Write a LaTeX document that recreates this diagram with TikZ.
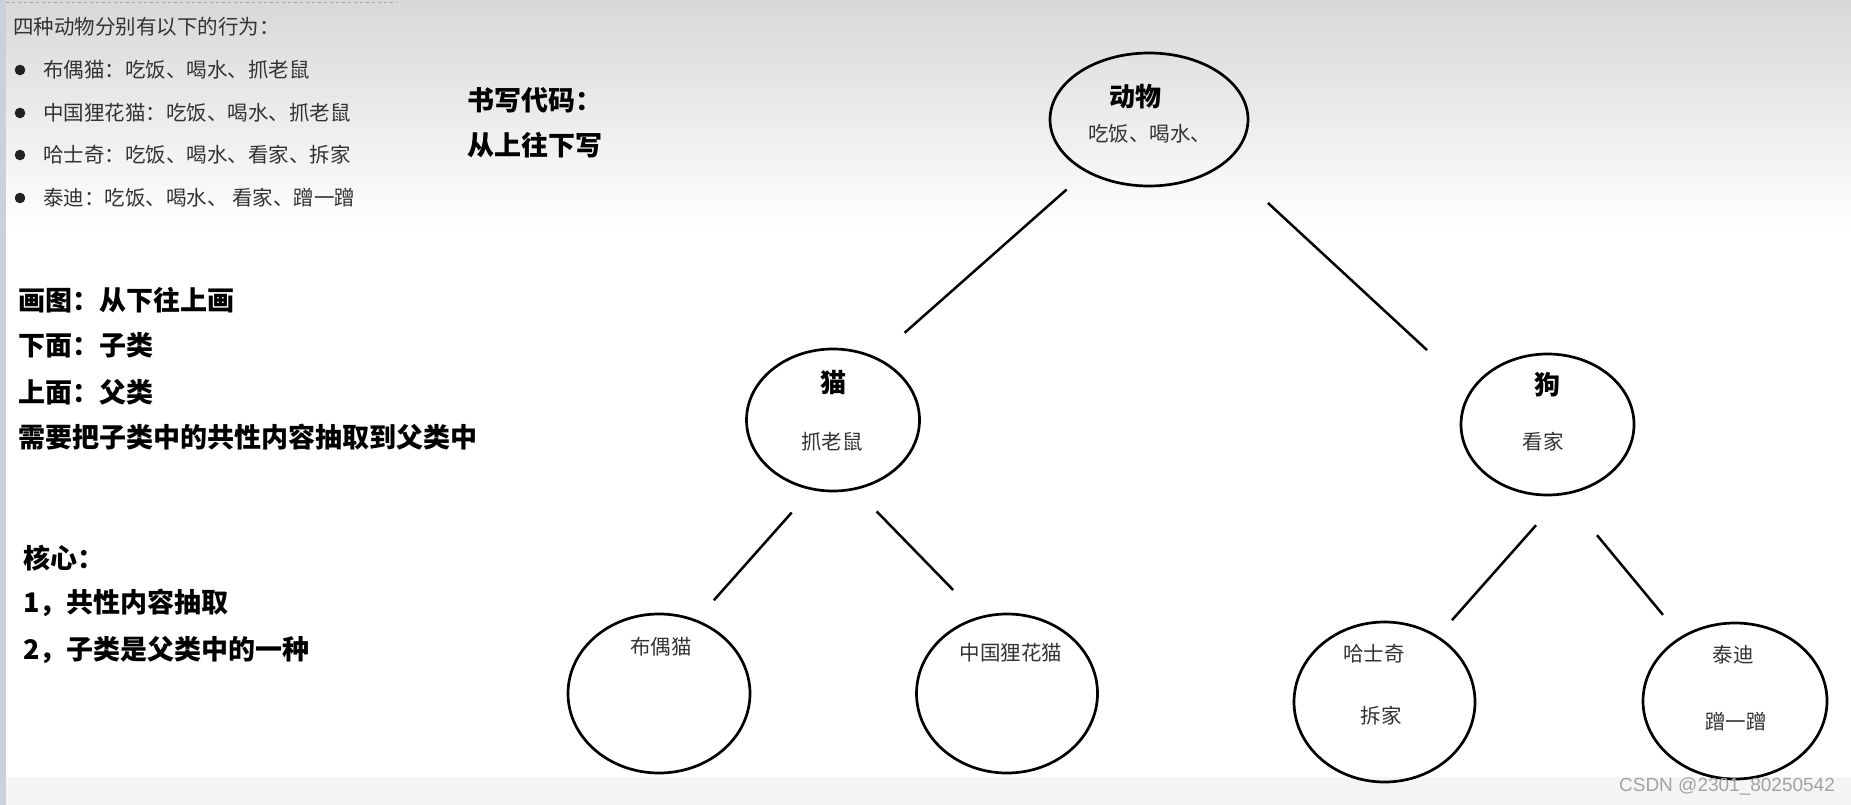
\documentclass[tikz,border=0pt]{standalone}
\usepackage{fontspec}
\setmainfont{Noto Sans CJK SC}
\newfontfamily\marksans{Liberation Sans}
\usepackage{tikz}
\usepackage{xcolor}
\usetikzlibrary{shapes.geometric}
\definecolor{Ink_Gray}{HTML}{333333}
\definecolor{Dot_Gray}{HTML}{222222}
\definecolor{Top_Shade}{HTML}{D8D8D8}
\definecolor{Edge_Blue}{HTML}{C9D1DF}
\definecolor{Band_Gray}{HTML}{F5F5F5}
\definecolor{Mark_Gray}{HTML}{A3A3A3}

\begin{document}
\begin{tikzpicture}[x=1pt, y=-1pt,
    blob/.style={draw, ellipse, line width=2.7pt, inner sep=0pt},
    link/.style={line width=2.5pt},
    body/.style={Ink_Gray, inner sep=0pt, font=\fontsize{20.5}{24}\selectfont},
    head/.style={black, inner sep=0pt, anchor=west, font=\fontsize{27}{32}\selectfont\bfseries},
    kind/.style={black, inner sep=0pt, font=\fontsize{26}{30}\selectfont\bfseries}]

    % page and screen background
    \fill[white] (0,0) rectangle (1851,805);
    \useasboundingbox (0,0) rectangle (1851,805);
    \shade[top color=Top_Shade, bottom color=white] (0,0) rectangle (1851,230);
    \fill[Band_Gray] (0,777) rectangle (1851,805);
    \fill[Edge_Blue] (0,0) rectangle (6,805);
    \draw[gray!70, dashed, line width=0.8pt] (6,2) -- (397,2);

    % the four animals and what they do
    \node[body, anchor=west] (intro) at (13,27) {四种动物分别有以下的行为：};
    \foreach \yy/\txt [count=\i] in {70/布偶猫：吃饭、喝水、抓老鼠,
        113/中国狸花猫：吃饭、喝水、抓老鼠,
        155/哈士奇：吃饭、喝水、看家、拆家,
        198/泰迪：吃饭、喝水、 看家、蹭一蹭} {
        \fill[Dot_Gray] (20,\yy) circle (5.3);
        \node[body, anchor=west] (item\i) at (43,\yy) {\txt};
    }

    % notes
    \node[head] (code1) at (467,100) {书写代码：};
    \node[head] (code2) at (467,145) {从上往下写};
    \node[head] (draw1) at (18,300) {画图：从下往上画};
    \node[head] (draw2) at (18,345) {下面：子类};
    \node[head] (draw3) at (18,392) {上面：父类};
    \node[head] (draw4) at (18,437) {需要把子类中的共性内容抽取到父类中};
    \node[head] (core0) at (23,558) {核心：};
    \node[head] (core1) at (23,603) {1，共性内容抽取};
    \node[head] (core2) at (23,650) {2，子类是父类中的一种};

    % class tree
    \node[blob, minimum width=198, minimum height=133] (animal) at (1149,119.5) {};
    \node[blob, minimum width=173, minimum height=142] (cat) at (833,420) {};
    \node[blob, minimum width=173, minimum height=141] (dog) at (1547.5,424.5) {};
    \node[blob, minimum width=182, minimum height=159] (ragdoll) at (659,693.5) {};
    \node[blob, minimum width=181, minimum height=159] (lihua) at (1007,693.5) {};
    \node[blob, minimum width=181, minimum height=160] (husky) at (1384.5,702) {};
    \node[blob, minimum width=184, minimum height=156] (teddy) at (1735,701) {};

    \node[kind] (animalname) at (1135,97) {动物};
    \node[body, anchor=west] (animalacts) at (1088,134) {吃饭、喝水、};
    \node[kind] (catname) at (833,383) {猫};
    \node[body] (catacts) at (832,442) {抓老鼠};
    \node[kind] (dogname) at (1547,385) {狗};
    \node[body] (dogacts) at (1543,442) {看家};
    \node[body] (ragdollname) at (661,647) {布偶猫};
    \node[body] (lihuaname) at (1011,653) {中国狸花猫};
    \node[body] (huskyname) at (1374,654) {哈士奇};
    \node[body] (huskyacts) at (1381,716) {拆家};
    \node[body] (teddyname) at (1733,655) {泰迪};
    \node[body] (teddyacts) at (1736,722) {蹭一蹭};

    \draw[link, shorten <=26pt, shorten >=37pt] (animal.220) -- (cat.55);
    \draw[link, shorten <=58pt, shorten >=59pt] (animal.330) -- (dog.156);
    \draw[link, shorten <=30pt, shorten >=26pt] (cat.253) -- (ragdoll.63);
    \draw[link, shorten <=30pt, shorten >=37pt] (cat.288) -- (lihua.110);
    \draw[link, shorten <=40pt, shorten >=21pt] (dog.282) -- (husky.51);
    \draw[link, shorten <=52pt, shorten >=28pt] (dog.283) -- (teddy.130);

    % watermark
    \node[Mark_Gray, inner sep=0pt, font=\fontsize{19}{22}\selectfont\marksans] (mark) at (1727,786) {CSDN @2301\_80250542};

\end{tikzpicture}
\end{document}
